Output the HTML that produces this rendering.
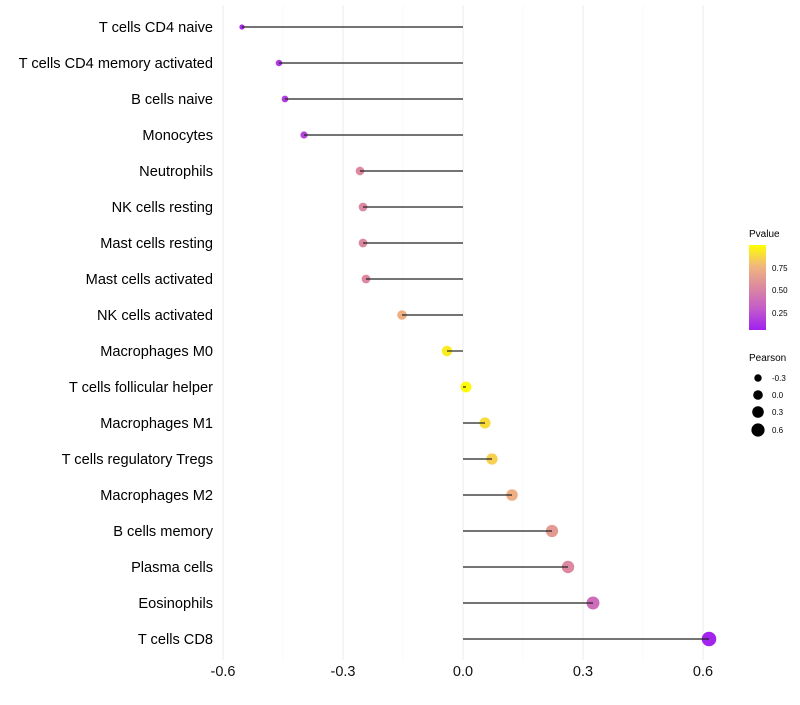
<!DOCTYPE html>
<html><head><meta charset="utf-8"><style>
body{margin:0;background:#fff;font-family:"Liberation Sans",sans-serif}
svg text{font-family:"Liberation Sans",sans-serif}
</style></head><body>
<svg id="c" width="800" height="700">
<defs><linearGradient id="pg" x1="0" y1="1" x2="0" y2="0">
<stop offset="0" stop-color="#A020F0"/><stop offset="0.25" stop-color="#C35BCB"/><stop offset="0.5" stop-color="#DC88A0"/><stop offset="0.75" stop-color="#F0B67E"/><stop offset="1" stop-color="#FFFF00"/></linearGradient></defs>
<g id="grid"></g><g id="marks"></g><g id="labels"></g>
<g>
<text x="749" y="237" font-size="10">Pvalue</text>
<rect x="749" y="245" width="17" height="85" fill="url(#pg)"/>
<text x="772" y="271" font-size="8">0.75</text>
<text x="772" y="293" font-size="8">0.50</text>
<text x="772" y="316" font-size="8">0.25</text>
</g>
<g>
<text x="749" y="361" font-size="10">Pearson</text>
<circle cx="758" cy="378" r="3.7"/><text x="772" y="381" font-size="8">-0.3</text>
<circle cx="758" cy="395" r="4.8"/><text x="772" y="398" font-size="8">0.0</text>
<circle cx="758" cy="412" r="5.8"/><text x="772" y="415" font-size="8">0.3</text>
<circle cx="758" cy="430" r="6.6"/><text x="772" y="433" font-size="8">0.6</text>
</g>
</svg>
<script>
const categories=["T cells CD4 naive","T cells CD4 memory activated","B cells naive","Monocytes","Neutrophils","NK cells resting","Mast cells resting","Mast cells activated","NK cells activated","Macrophages M0","T cells follicular helper","Macrophages M1","T cells regulatory  Tregs ","Macrophages M2","B cells memory","Plasma cells","Eosinophils","T cells CD8"];
const pearson=[-0.5525,-0.46,-0.445,-0.3975,-0.2575,-0.25,-0.25,-0.2425,-0.1525,-0.04,0.0075,0.055,0.0725,0.1225,0.2225,0.2625,0.325,0.615];
const pvalues=[0.05,0.1,0.12,0.15,0.5,0.5,0.5,0.5,0.72,0.93,0.99,0.88,0.84,0.72,0.6,0.5,0.35,0.02];
const xTicks=[-0.6,-0.3,0,0.3,0.6];
const xTickLabels=["-0.6","-0.3","0.0","0.3","0.6"];
const NS="http://www.w3.org/2000/svg";
const xs=v=>463+v*400;
const ys=i=>27+i*36;
const rs=v=>Math.sqrt(Math.max(3,28.8+39.5*v));
function lerp(a,b,t){return a.map((x,i)=>Math.round(x+(b[i]-x)*t));}
const stops=[[0,[160,32,240]],[0.25,[195,91,203]],[0.5,[220,136,160]],[0.75,[240,182,126]],[1,[255,255,0]]];
function col(p){for(let i=1;i<stops.length;i++){if(p<=stops[i][0]){const t=(p-stops[i-1][0])/(stops[i][0]-stops[i-1][0]);const c=lerp(stops[i-1][1],stops[i][1],t);return `rgb(${c})`;}}return "rgb(255,255,0)";}
function mk(tag,attrs,parent){const e=document.createElementNS(NS,tag);for(const k in attrs)e.setAttribute(k,attrs[k]);document.getElementById(parent).appendChild(e);return e;}
[-0.45,-0.15,0.15,0.45].forEach(v=>{const l=mk("line",{x1:xs(v),x2:xs(v),y1:5,y2:660,stroke:"#f3f3f3","stroke-width":0.6},"grid");

});
xTicks.forEach((v,i)=>{const l=mk("line",{x1:xs(v),x2:xs(v),y1:5,y2:660,stroke:"#ebebeb","stroke-width":1},"grid");


const t=mk("text",{x:xs(v),y:676,"font-size":14.5,"text-anchor":"middle",fill:"#111"},"labels");t.textContent=xTickLabels[i];

});
categories.forEach((c,i)=>{const y=ys(i);
const t=mk("text",{x:213,y:y+5,"font-size":14.6,"text-anchor":"end",fill:"#000"},"labels");t.textContent=c;


const p=mk("circle",{cx:xs(pearson[i]),cy:y,r:rs(pearson[i]),fill:col(pvalues[i])},"marks");


const s=mk("line",{x1:xs(0),x2:xs(pearson[i]),y1:y,y2:y,stroke:"#222","stroke-width":1.2},"marks");

});
</script>
</body></html>
